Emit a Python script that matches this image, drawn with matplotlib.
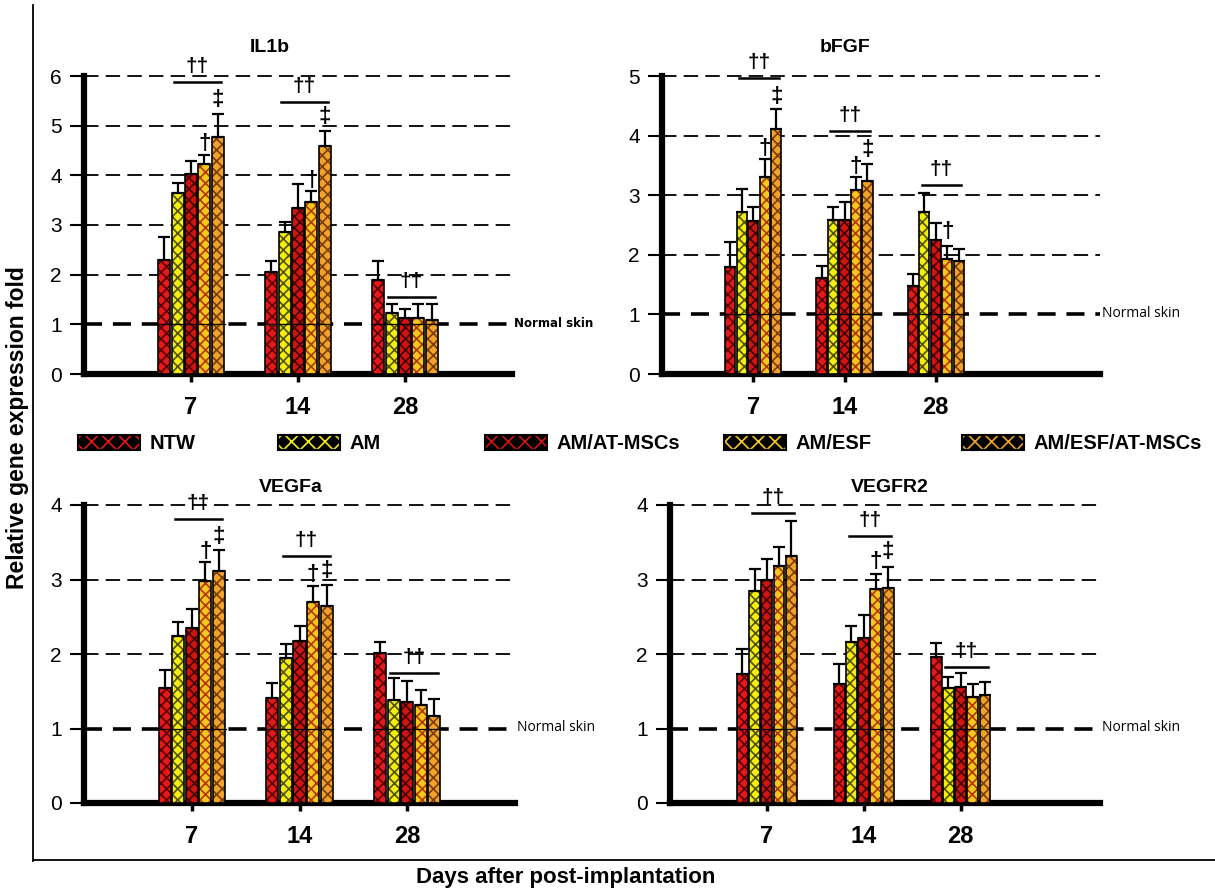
import numpy as np
import matplotlib.pyplot as plt
from matplotlib.patches import Patch
from matplotlib.lines import Line2D

plt.rcParams['font.family'] = ['Liberation Sans', 'DejaVu Sans']
plt.rcParams['hatch.linewidth'] = 1.2

days = ['7', '14', '28']
groups = ['NTW', 'AM', 'AM/AT-MSCs', 'AM/ESF', 'AM/ESF/AT-MSCs']
colors = ['#e5181c', '#f2ee12', '#d01414', '#f7c81c', '#f1a22a']
hatch_colors = ['#5a0000', '#555000', '#420000', '#b03800', '#7a3c00']
hatches = ['xxx', 'xxx', 'xxx', 'xxx', 'xxx']

# rows = groups, columns = days
il1b_mean = [[2.30, 2.05, 1.90], [3.65, 2.86, 1.22], [4.02, 3.34, 1.13], [4.22, 3.46, 1.13], [4.78, 4.59, 1.08]]
il1b_err = [[0.46, 0.23, 0.38], [0.20, 0.21, 0.18], [0.27, 0.49, 0.18], [0.19, 0.22, 0.27], [0.46, 0.30, 0.32]]

bfgf_mean = [[1.80, 1.61, 1.47], [2.71, 2.58, 2.71], [2.56, 2.58, 2.24], [3.31, 3.09, 1.93], [4.11, 3.23, 1.89]]
bfgf_err = [[0.41, 0.20, 0.20], [0.39, 0.22, 0.33], [0.25, 0.30, 0.29], [0.30, 0.21, 0.22], [0.34, 0.30, 0.21]]

vegfa_mean = [[1.55, 1.41, 2.02], [2.24, 1.94, 1.38], [2.35, 2.17, 1.35], [2.98, 2.70, 1.31], [3.11, 2.65, 1.17]]
vegfa_err = [[0.24, 0.20, 0.14], [0.19, 0.20, 0.30], [0.25, 0.20, 0.29], [0.25, 0.21, 0.21], [0.29, 0.28, 0.22]]

vegfr2_mean = [[1.73, 1.60, 1.96], [2.84, 2.16, 1.55], [2.99, 2.22, 1.56], [3.18, 2.87, 1.42], [3.32, 2.88, 1.45]]
vegfr2_err = [[0.34, 0.26, 0.19], [0.30, 0.22, 0.14], [0.29, 0.30, 0.19], [0.25, 0.20, 0.18], [0.47, 0.29, 0.18]]

# significance brackets (day index, y) spanning bars 2-5, and marks (day, bar, y, sign)
il1b_brackets = [(0, 5.87), (1, 5.48), (2, 1.56)]
il1b_marks = [(0, 3, 4.64, '†'), (0, 4, 5.52, '‡'), (1, 3, 3.90, '†'), (1, 4, 5.19, '‡')]
bfgf_brackets = [(0, 4.96), (1, 4.07), (2, 3.17)]
bfgf_marks = [(0, 3, 3.79, '†'), (0, 4, 4.65, '‡'), (1, 3, 3.48, '†'), (1, 4, 3.76, '‡'), (2, 3, 2.39, '†')]
vegfa_brackets = [(0, 3.81), (1, 3.31), (2, 1.75)]
vegfa_marks = [(0, 3, 3.37, '†'), (0, 4, 3.58, '‡'), (1, 3, 3.07, '†'), (1, 4, 3.12, '‡')]
vegfr2_brackets = [(0, 3.89), (1, 3.58), (2, 1.83)]
vegfr2_marks = [(1, 3, 3.24, '†'), (1, 4, 3.37, '‡')]

W, H = 1215, 891
fig = plt.figure(figsize=(12.15, 8.91), dpi=100)

step = 0.126
bw = 0.112
x = np.arange(len(days))


def px(l, t, r, b):
    return [l / W, 1 - b / H, (r - l) / W, (b - t) / H]


def panel(rect, xmax, mean, err, ymax, brackets, marks, title, title_xy, ns_font, ns_weight, ns_size):
    ax = fig.add_axes(rect)
    ax.set_xlim(-1.0, xmax)
    ax.set_ylim(0, ymax)
    for i in range(len(groups)):
        pos = x + (i - 2) * step
        ax.bar(pos, mean[i], bw, color=colors[i], edgecolor=hatch_colors[i],
               hatch=hatches[i], linewidth=0, zorder=3)
        ax.bar(pos, mean[i], bw, fill=False, edgecolor='black', linewidth=1.2, zorder=4)
        ax.errorbar(pos, mean[i], yerr=[np.zeros(3), err[i]], fmt='none',
                    ecolor='black', elinewidth=1.6, capsize=4, capthick=1.6, zorder=5)
    for yv in range(2, ymax + 1):
        ax.axhline(yv, color='black', lw=1.3, ls=(0, (8, 4)), zorder=1, clip_on=False)
    ax.axhline(1, color='black', lw=2.6, ls=(0, (5, 3)), zorder=1)
    for g in x:
        ax.plot([g - 2.5 * step, g + 2.5 * step], [1, 1], color='black', lw=0.9, zorder=6)
    for d, yv in brackets:
        x0 = d - 1 * step - 0.03
        x1 = d + 2 * step + 0.03
        ax.plot([x0, x1], [yv, yv], color='black', lw=1.8, zorder=6, clip_on=False)
        ax.text((x0 + x1) / 2, yv + 0.02 * ymax, '††', ha='center', va='bottom',
                fontsize=15, fontweight='bold', clip_on=False)
    for d, b, yv, s in marks:
        ax.text(d + (b - 2) * step, yv, s, ha='center', va='center',
                fontsize=16, fontweight='bold', clip_on=False)
    ax.text(xmax + 0.02, 1.02, 'Normal skin', ha='left', va='center', fontsize=ns_size,
            family=ns_font, fontweight=ns_weight, clip_on=False)
    for s in ['top', 'right']:
        ax.spines[s].set_visible(False)
    ax.spines['left'].set_linewidth(4.5)
    ax.spines['bottom'].set_linewidth(4.5)
    ax.set_yticks(range(0, ymax + 1))
    ax.set_xticks(x)
    ax.set_xticklabels(days, fontsize=17, fontweight='bold')
    ax.tick_params(axis='y', length=10, width=1.5, labelsize=15, pad=6)
    ax.tick_params(axis='x', length=6, width=2.5, pad=10)
    fig.text(title_xy[0] / W, 1 - title_xy[1] / H, title, ha='center', va='center',
             fontsize=14, fontweight='bold')
    return ax


panel(px(84, 76, 512, 374), 3.0, il1b_mean, il1b_err, 6, il1b_brackets, il1b_marks,
      'IL1b', (270, 48), ['DejaVu Sans'], 'bold', 8.5)
panel(px(662, 76, 1100, 374), 3.8, bfgf_mean, bfgf_err, 5, bfgf_brackets, bfgf_marks,
      'bFGF', (845, 48), ['Open Sans', 'DejaVu Sans'], 'normal', 10)
panel(px(84, 505, 515, 803), 3.0, vegfa_mean, vegfa_err, 4, vegfa_brackets, vegfa_marks,
      'VEGFa', (291, 488), ['Open Sans', 'DejaVu Sans'], 'normal', 10)
panel(px(670, 505, 1100, 803), 3.44, vegfr2_mean, vegfr2_err, 4, vegfr2_brackets, vegfr2_marks,
      'VEGFR2', (890, 488), ['Open Sans', 'DejaVu Sans'], 'normal', 10)

# legend, one entry at a time to keep the uneven spacing
leg_x = [78, 278, 485, 724, 962]
for i, name in enumerate(groups):
    h = (Patch(facecolor='black', edgecolor=colors[i], hatch='xx', linewidth=0),
         Patch(fill=False, edgecolor='black', linewidth=1.5))
    lg = fig.legend([h], [name], loc='center left', bbox_to_anchor=(leg_x[i] / W, 1 - 444 / H),
                    frameon=False, handlelength=3.1, handleheight=0.8, handletextpad=0.45,
                    borderpad=0, borderaxespad=0, prop={'size': 14.5, 'weight': 'bold'})

fig.text(18 / W, 1 - 428 / H, 'Relative gene expression fold', rotation=90,
         ha='center', va='center', fontsize=16.5, fontweight='bold')
fig.text(566 / W, 1 - 877 / H, 'Days after post-implantation', ha='center', va='center',
         fontsize=16, fontweight='bold')

fig.add_artist(Line2D([33 / W, 33 / W], [1 - 5 / H, 1 - 861 / H], color='black', lw=1.3))
fig.add_artist(Line2D([33 / W, 1 / 1], [1 - 860 / H, 1 - 860 / H], color='black', lw=1.3))

fig.savefig('out.png', dpi=100)
